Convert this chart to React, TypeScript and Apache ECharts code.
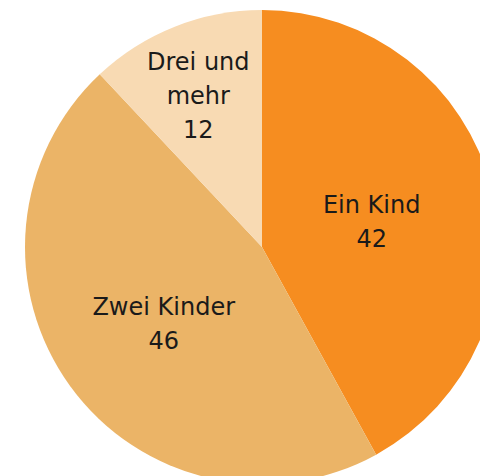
import React, { useEffect, useRef } from "react";
import * as echarts from "echarts";

const categories = ["Ein Kind", "Zwei Kinder", "Drei und\nmehr"];
const values = [42, 46, 12];
const colors = ["#F68D20", "#EBB467", "#F8DAB3"];

export default function App() {
  const ref = useRef<HTMLDivElement>(null);
  useEffect(() => {
    document.body.style.margin = "0";
    const chart = echarts.init(ref.current!, null, { renderer: "svg" });
    const shifts = [
      { dx: -8, dy: 5 },
      { dx: 0, dy: 6 },
      { dx: -19, dy: -38 },
    ];
    chart.setOption({
      animation: false,
      backgroundColor: "#ffffff",
      series: [
        {
          type: "pie",
          center: [262, 247],
          radius: 237,
          startAngle: 90,
          clockwise: true,
          data: categories.map((c, i) => ({
            name: c,
            value: values[i],
            itemStyle: { color: colors[i] },
          })),
          label: {
            show: true,
            position: "inside",
            formatter: "{b}\n{c}",
            fontFamily: "DejaVu Sans",
            fontSize: 24,
            lineHeight: 34,
            color: "#1a1a1a",
            align: "center",
          },
          labelLayout: (params: any) => shifts[params.dataIndex] || {},
          labelLine: { show: false },
          emphasis: { disabled: true },
        },
      ],
    });
    return () => chart.dispose();
  }, []);
  return (
    <div
      ref={ref}
      style={{ position: "absolute", left: 0, top: 0, width: 480, height: 476 }}
    />
  );
}
